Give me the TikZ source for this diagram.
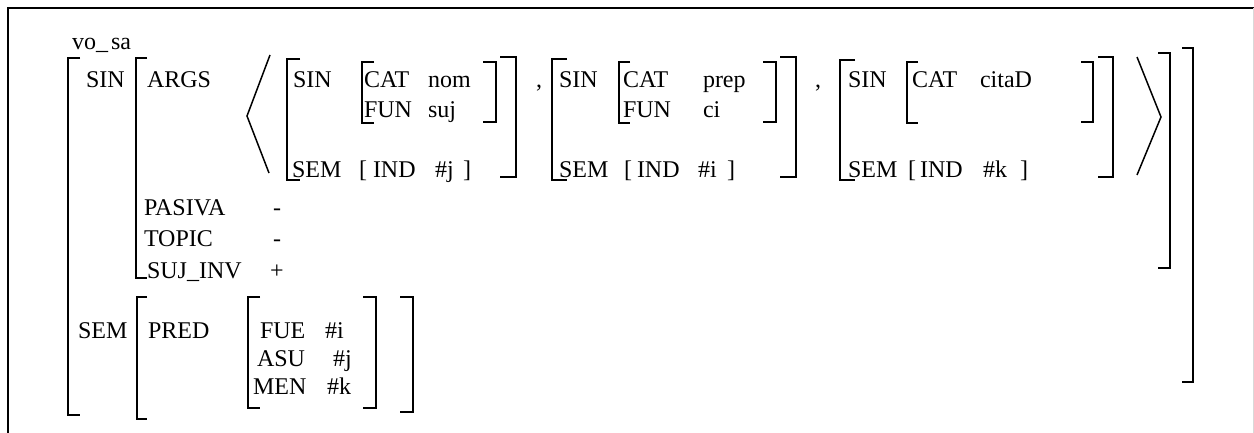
\documentclass[tikz,border=0pt]{standalone}
\usepackage{fontspec}
\setmainfont{Liberation Serif}
\begin{document}
\begin{tikzpicture}[x=1pt,y=-1pt,
  txt/.style={anchor=base west,inner sep=0pt,outer sep=0pt,font=\fontsize{24}{29}\selectfont},
  brk/.style={line width=1.8pt,line cap=butt,line join=miter},
  frame/.style={line width=2pt}]
\useasboundingbox (0,0) rectangle (1254,433);
\fill[white] (0,0) rectangle (1254,433);

% open frame round the structure
\draw[frame] (7,8) -- (1254,8);
\draw[frame] (8,8) -- (8,433);
\draw[line width=1pt,black!15] (1253,8) -- (1253,433);

% type name
\node[txt] (type) at (72,50) {vo\_\hspace{3pt}sa};

% outermost matrix
\draw[brk] (80,58) -- (68,58) -- (68,415) -- (80,415);
\draw[brk] (1182,48) -- (1193,48) -- (1193,382) -- (1182,382);

% ---- SIN ----
\node[txt] (sin) at (86,88) {SIN};
\draw[brk] (147,58) -- (136,58) -- (136,278) -- (147,278);
\draw[brk] (1158,53) -- (1170,53) -- (1170,268) -- (1158,268);

\node[txt] (args) at (147,88) {ARGS};
\node[txt] (pasiva) at (144,215) {PASIVA};
\node[txt] (pasivav) at (273,215) {-};
\node[txt] (topic) at (144,247) {TOPIC};
\node[txt] (topicv) at (273,247) {-};
\node[txt] (sujinv) at (147,278) {SUJ\_INV};
\node[txt] (sujinvv) at (270,278) {+};

% list brackets
\draw[brk,line width=1.5pt] (270,55) -- (247,116) -- (269,173);
\draw[brk,line width=1.5pt] (1137,57) -- (1161,117) -- (1137,175);

% first argument
\draw[brk] (300,59) -- (287,59) -- (287,180) -- (300,180);
\draw[brk] (500,57) -- (516,57) -- (516,177) -- (500,177);
\node[txt] (aSin) at (293,88) {SIN};
\draw[brk] (374,62) -- (362,62) -- (362,123) -- (374,123);
\draw[brk] (483,62) -- (496,62) -- (496,122) -- (483,122);
\node[txt] (aCat) at (364,88) {CAT};
\node[txt] (aCatv) at (428,88) {nom};
\node[txt] (aFun) at (364,118) {FUN};
\node[txt] (aFunv) at (428,118) {suj};
\node[txt] (aSem) at (292,178) {SEM};
\node[txt] (aLb) at (359,178) {[};
\node[txt] (aInd) at (373,178) {IND};
\node[txt] (aIndv) at (435,178) {\#j};
\node[txt] (aRb) at (463,178) {]};
\node[txt] (comma1) at (536,88) {,};

% second argument
\draw[brk] (567,59) -- (552,59) -- (552,180) -- (567,180);
\draw[brk] (780,57) -- (796,57) -- (796,177) -- (780,177);
\node[txt] (bSin) at (559,88) {SIN};
\draw[brk] (630,62) -- (619,62) -- (619,123) -- (630,123);
\draw[brk] (763,62) -- (776,62) -- (776,122) -- (763,122);
\node[txt] (bCat) at (623,88) {CAT};
\node[txt] (bCatv) at (703,88) {prep};
\node[txt] (bFun) at (623,118) {FUN};
\node[txt] (bFunv) at (703,118) {ci};
\node[txt] (bSem) at (559,178) {SEM};
\node[txt] (bLb) at (624,178) {[};
\node[txt] (bInd) at (637,178) {IND};
\node[txt] (bIndv) at (698,178) {\#i};
\node[txt] (bRb) at (727,178) {]};
\node[txt] (comma2) at (815,88) {,};

% third argument
\draw[brk] (855,60) -- (840,60) -- (840,180) -- (855,180);
\draw[brk] (1098,57) -- (1113,57) -- (1113,177) -- (1098,177);
\node[txt] (cSin) at (848,88) {SIN};
\draw[brk] (918,62) -- (907,62) -- (907,123) -- (918,123);
\draw[brk] (1081,62) -- (1093,62) -- (1093,122) -- (1081,122);
\node[txt] (cCat) at (912,88) {CAT};
\node[txt] (cCatv) at (980,88) {citaD};
\node[txt] (cSem) at (848,178) {SEM};
\node[txt] (cLb) at (908,178) {[};
\node[txt] (cInd) at (920,178) {IND};
\node[txt] (cIndv) at (983,178) {\#k};
\node[txt] (cRb) at (1020,178) {]};

% ---- SEM ----
\node[txt] (sem) at (78,338) {SEM};
\draw[brk] (147,297) -- (137,297) -- (137,419) -- (147,419);
\draw[brk] (400,297) -- (413,297) -- (413,412) -- (400,412);
\node[txt] (pred) at (148,338) {PRED};
\draw[brk] (260,297) -- (248,297) -- (248,408) -- (260,408);
\draw[brk] (363,297) -- (376,297) -- (376,408) -- (363,408);
\node[txt] (fue) at (260,338) {FUE};
\node[txt] (fuev) at (325,338) {\#i};
\node[txt] (asu) at (257,366) {ASU};
\node[txt] (asuv) at (333,366) {\#j};
\node[txt] (men) at (253,394) {MEN};
\node[txt] (menv) at (327,394) {\#k};
\end{tikzpicture}
\end{document}
